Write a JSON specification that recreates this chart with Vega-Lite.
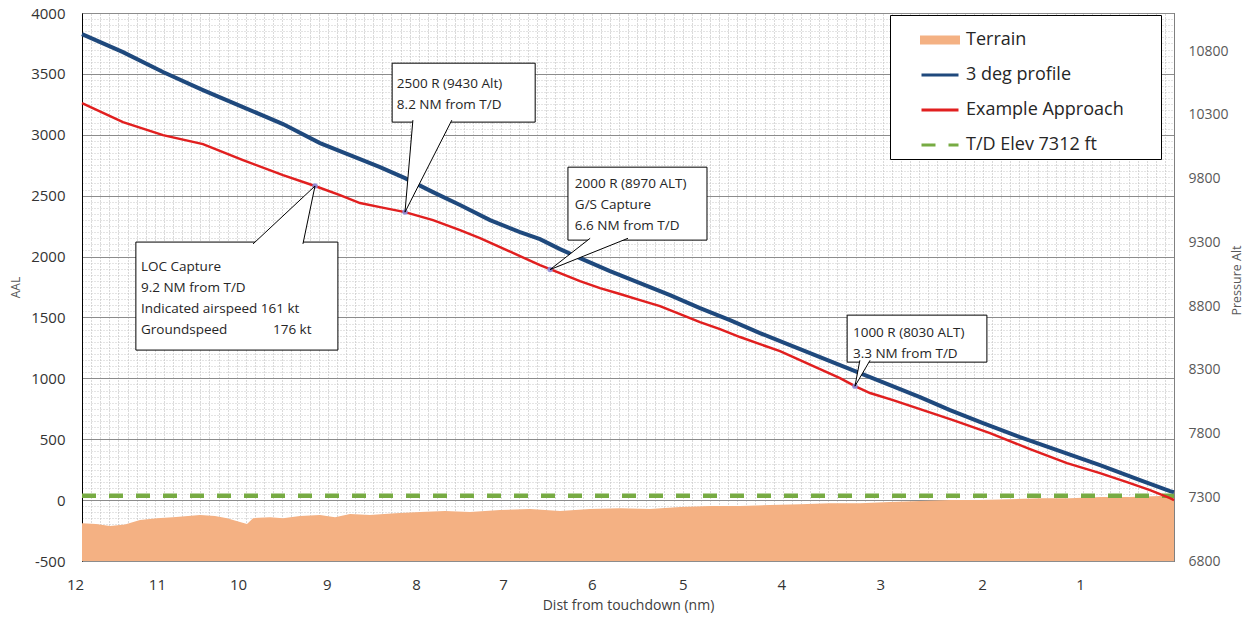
{
  "$schema": "https://vega.github.io/schema/vega-lite/v6.json",
  "width": 1092,
  "height": 548,
  "autosize": {"type": "none"},
  "padding": {"left": 82, "top": 13, "right": 80, "bottom": 60},
  "background": "#ffffff",
  "config": {
    "font": "Open Sans",
    "view": {"stroke": "#404040", "strokeWidth": 1},
    "axis": {"labelFont": "Open Sans", "titleFont": "Open Sans", "titleFontWeight": "normal", "ticks": false, "tickSize": 0, "labelOverlap": false, "labelFlush": false, "labelBound": false}
  },
  "datasets": {
    "terrain": [
      {"time_s": 0, "aal": -189}, {"time_s": 3.85, "aal": -197}, {"time_s": 7.69, "aal": -213}, {"time_s": 11.81, "aal": -200},
      {"time_s": 15.93, "aal": -164}, {"time_s": 20.6, "aal": -148}, {"time_s": 25.0, "aal": -140}, {"time_s": 32.42, "aal": -123},
      {"time_s": 36.54, "aal": -131}, {"time_s": 39.84, "aal": -148}, {"time_s": 43.41, "aal": -180}, {"time_s": 45.33, "aal": -197},
      {"time_s": 46.98, "aal": -148}, {"time_s": 51.65, "aal": -140}, {"time_s": 55.22, "aal": -148}, {"time_s": 59.89, "aal": -131},
      {"time_s": 65.38, "aal": -123}, {"time_s": 69.51, "aal": -140}, {"time_s": 73.63, "aal": -115}, {"time_s": 79.12, "aal": -123},
      {"time_s": 85.99, "aal": -107}, {"time_s": 92.86, "aal": -98}, {"time_s": 99.73, "aal": -90}, {"time_s": 106.59, "aal": -98},
      {"time_s": 114.84, "aal": -82}, {"time_s": 123.08, "aal": -74}, {"time_s": 131.32, "aal": -90}, {"time_s": 139.56, "aal": -74},
      {"time_s": 147.8, "aal": -66}, {"time_s": 156.04, "aal": -74}, {"time_s": 164.29, "aal": -57}, {"time_s": 172.53, "aal": -49},
      {"time_s": 180.77, "aal": -49}, {"time_s": 189.01, "aal": -41}, {"time_s": 197.25, "aal": -33}, {"time_s": 205.49, "aal": -25},
      {"time_s": 213.74, "aal": -25}, {"time_s": 221.98, "aal": -16}, {"time_s": 230.22, "aal": -8}, {"time_s": 238.46, "aal": 0},
      {"time_s": 246.7, "aal": 0}, {"time_s": 254.95, "aal": 8}, {"time_s": 263.19, "aal": 16}, {"time_s": 271.43, "aal": 16},
      {"time_s": 279.67, "aal": 25}, {"time_s": 287.91, "aal": 25}, {"time_s": 296.15, "aal": 33}, {"time_s": 300, "aal": 33}
    ],
    "td": [
      {"series": "T/D Elev 7312 ft", "time_s": 0, "pressure_alt": 7312},
      {"series": "T/D Elev 7312 ft", "time_s": 300, "pressure_alt": 7312}
    ],
    "lines": [
      {"series": "3 deg profile", "time_s": 0, "aal": 3827}, {"series": "3 deg profile", "time_s": 11.26, "aal": 3679},
      {"series": "3 deg profile", "time_s": 22.25, "aal": 3515}, {"series": "3 deg profile", "time_s": 33.24, "aal": 3367},
      {"series": "3 deg profile", "time_s": 44.23, "aal": 3227}, {"series": "3 deg profile", "time_s": 55.22, "aal": 3088},
      {"series": "3 deg profile", "time_s": 65.38, "aal": 2932}, {"series": "3 deg profile", "time_s": 73.63, "aal": 2833},
      {"series": "3 deg profile", "time_s": 81.87, "aal": 2735}, {"series": "3 deg profile", "time_s": 88.74, "aal": 2644},
      {"series": "3 deg profile", "time_s": 96.43, "aal": 2529}, {"series": "3 deg profile", "time_s": 103.85, "aal": 2423},
      {"series": "3 deg profile", "time_s": 112.09, "aal": 2299}, {"series": "3 deg profile", "time_s": 120.33, "aal": 2201},
      {"series": "3 deg profile", "time_s": 125.82, "aal": 2143}, {"series": "3 deg profile", "time_s": 131.32, "aal": 2061},
      {"series": "3 deg profile", "time_s": 136.81, "aal": 1987}, {"series": "3 deg profile", "time_s": 145.05, "aal": 1881},
      {"series": "3 deg profile", "time_s": 153.3, "aal": 1782}, {"series": "3 deg profile", "time_s": 161.54, "aal": 1683},
      {"series": "3 deg profile", "time_s": 169.78, "aal": 1577}, {"series": "3 deg profile", "time_s": 178.02, "aal": 1478},
      {"series": "3 deg profile", "time_s": 186.26, "aal": 1371}, {"series": "3 deg profile", "time_s": 194.51, "aal": 1273},
      {"series": "3 deg profile", "time_s": 202.75, "aal": 1174}, {"series": "3 deg profile", "time_s": 210.99, "aal": 1076},
      {"series": "3 deg profile", "time_s": 219.23, "aal": 977}, {"series": "3 deg profile", "time_s": 230.22, "aal": 846},
      {"series": "3 deg profile", "time_s": 238.46, "aal": 739}, {"series": "3 deg profile", "time_s": 247.53, "aal": 632},
      {"series": "3 deg profile", "time_s": 257.69, "aal": 517}, {"series": "3 deg profile", "time_s": 268.68, "aal": 402},
      {"series": "3 deg profile", "time_s": 279.67, "aal": 287}, {"series": "3 deg profile", "time_s": 290.66, "aal": 164},
      {"series": "3 deg profile", "time_s": 298.9, "aal": 74}, {"series": "3 deg profile", "time_s": 300, "aal": 66},
      {"series": "Example Approach", "time_s": 0, "aal": 3260}, {"series": "Example Approach", "time_s": 11.26, "aal": 3104},
      {"series": "Example Approach", "time_s": 22.25, "aal": 2997}, {"series": "Example Approach", "time_s": 33.24, "aal": 2923},
      {"series": "Example Approach", "time_s": 44.23, "aal": 2792}, {"series": "Example Approach", "time_s": 55.22, "aal": 2669},
      {"series": "Example Approach", "time_s": 64.01, "aal": 2579}, {"series": "Example Approach", "time_s": 70.88, "aal": 2505},
      {"series": "Example Approach", "time_s": 76.37, "aal": 2439}, {"series": "Example Approach", "time_s": 81.87, "aal": 2406},
      {"series": "Example Approach", "time_s": 88.74, "aal": 2365}, {"series": "Example Approach", "time_s": 96.43, "aal": 2299},
      {"series": "Example Approach", "time_s": 103.85, "aal": 2217}, {"series": "Example Approach", "time_s": 109.34, "aal": 2152},
      {"series": "Example Approach", "time_s": 114.84, "aal": 2078}, {"series": "Example Approach", "time_s": 120.33, "aal": 2004},
      {"series": "Example Approach", "time_s": 125.82, "aal": 1930}, {"series": "Example Approach", "time_s": 131.32, "aal": 1864},
      {"series": "Example Approach", "time_s": 136.81, "aal": 1798}, {"series": "Example Approach", "time_s": 142.31, "aal": 1741},
      {"series": "Example Approach", "time_s": 147.8, "aal": 1692}, {"series": "Example Approach", "time_s": 153.3, "aal": 1642},
      {"series": "Example Approach", "time_s": 158.79, "aal": 1593}, {"series": "Example Approach", "time_s": 164.29, "aal": 1527},
      {"series": "Example Approach", "time_s": 169.78, "aal": 1462}, {"series": "Example Approach", "time_s": 175.27, "aal": 1404},
      {"series": "Example Approach", "time_s": 180.77, "aal": 1339}, {"series": "Example Approach", "time_s": 186.26, "aal": 1281},
      {"series": "Example Approach", "time_s": 191.76, "aal": 1224}, {"series": "Example Approach", "time_s": 197.25, "aal": 1150},
      {"series": "Example Approach", "time_s": 202.75, "aal": 1076}, {"series": "Example Approach", "time_s": 208.24, "aal": 1002},
      {"series": "Example Approach", "time_s": 212.36, "aal": 936}, {"series": "Example Approach", "time_s": 216.48, "aal": 879},
      {"series": "Example Approach", "time_s": 222.8, "aal": 821}, {"series": "Example Approach", "time_s": 230.22, "aal": 747},
      {"series": "Example Approach", "time_s": 239.29, "aal": 657}, {"series": "Example Approach", "time_s": 249.45, "aal": 550},
      {"series": "Example Approach", "time_s": 260.44, "aal": 419}, {"series": "Example Approach", "time_s": 270.6, "aal": 304},
      {"series": "Example Approach", "time_s": 279.67, "aal": 222}, {"series": "Example Approach", "time_s": 287.09, "aal": 148},
      {"series": "Example Approach", "time_s": 293.41, "aal": 82}, {"series": "Example Approach", "time_s": 298.9, "aal": 16},
      {"series": "Example Approach", "time_s": 300, "aal": 0}
    ],
    "callouts": [
      {"id": 1, "text": "2500 R (9430 Alt)\n8.2 NM from T/D", "box_t1": 85.2, "box_t2": 124.5, "box_top": 3588, "box_bottom": 3104, "label_t": 86.5, "label_aal": 3474, "tip_t": 88.74, "tip_aal": 2365},
      {"id": 2, "text": "2000 R (8970 ALT)\nG/S Capture\n6.6 NM from T/D", "box_t1": 133.5, "box_t2": 171.7, "box_top": 2734, "box_bottom": 2135, "label_t": 135.4, "label_aal": 2652, "tip_t": 128.6, "tip_aal": 1893},
      {"id": 3, "text": "LOC Capture\n9.2 NM from T/D\nIndicated airspeed 161 kt\nGroundspeed\u00a0\u00a0\u00a0\u00a0\u00a0\u00a0\u00a0\u00a0\u00a0\u00a0\u00a0\u00a0 176 kt", "box_t1": 14.8, "box_t2": 70.3, "box_top": 2119, "box_bottom": 1232, "label_t": 16.2, "label_aal": 1971, "tip_t": 64.01, "tip_aal": 2579},
      {"id": 4, "text": "1000 R (8030 ALT)\n3.3 NM from T/D", "box_t1": 210.2, "box_t2": 248.6, "box_top": 1519, "box_bottom": 1133, "label_t": 211.8, "label_aal": 1429, "tip_t": 212.36, "tip_aal": 936}
    ],
    "pointers": [
      {"id": 1, "aal": 3120, "t_left": 90.9, "t_right": 101.6}, {"id": 1, "aal": 2365, "t_left": 88.74, "t_right": 88.74},
      {"id": 2, "aal": 2150, "t_left": 139.6, "t_right": 150.0}, {"id": 2, "aal": 1893, "t_left": 128.6, "t_right": 128.6},
      {"id": 3, "aal": 2104, "t_left": 47.0, "t_right": 60.7}, {"id": 3, "aal": 2579, "t_left": 64.01, "t_right": 64.01},
      {"id": 4, "aal": 1148, "t_left": 213.7, "t_right": 216.5}, {"id": 4, "aal": 936, "t_left": 212.36, "t_right": 212.36}
    ]
  },
  "layer": [
    {
      "data": {"name": "terrain"},
      "mark": {"type": "area", "opacity": 1},
      "encoding": {
        "x": {"field": "time_s", "type": "quantitative", "scale": {"domain": [0, 300], "nice": false, "zero": false},
          "axis": {"title": "Dist from touchdown (nm)", "orient": "bottom", "labelOverlap": false,
            "values": [0, 22.5, 44.8, 69.2, 93.7, 117.6, 142, 167, 194, 221.2, 249.2, 276.1],
            "labelExpr": "['12','11','10','9','8','7','6','5','4','3','2','1'][indexof([0,22.5,44.8,69.2,93.7,117.6,142,167,194,221.2,249.2,276.1], datum.value)]",
            "grid": false, "ticks": false, "domain": false,
            "labelFontSize": 15, "labelColor": "#333333", "labelPadding": 23, "labelBaseline": "middle", "labelOffset": -7,
            "titleFontSize": 14, "titleColor": "#404040", "titleX": 546, "titleY": 44, "titleAlign": "center", "titleBaseline": "middle"}},
        "y": {"field": "aal", "type": "quantitative", "scale": {"domain": [-500, 4000], "nice": false, "zero": false},
          "axis": {"title": "AAL", "orient": "left", "tickCount": 90, "labelOverlap": false,
            "labelExpr": "datum.value % 500 === 0 ? '' + datum.value : ''",
            "grid": true,
            "gridColor": {"condition": {"test": "datum.value % 500 === 0", "value": "#8c8c8c"}, "value": "#c8c8c8"},
            "gridDash": {"condition": {"test": "datum.value % 500 === 0", "value": []}, "value": [1, 2]},
            "gridWidth": 1, "ticks": false, "domain": true, "domainColor": "#000000", "domainWidth": 1,
            "labelFontSize": 15, "labelColor": "#333333", "labelPadding": 17,
            "titleFontSize": 12, "titleColor": "#595959", "titleX": -67, "titleY": 274, "titleAlign": "center", "titleBaseline": "middle", "titleAngle": -90}},
        "y2": {"datum": -500},
        "fill": {"datum": "Terrain", "type": "nominal", "scale": {"domain": ["Terrain"], "range": ["#f4b183"]},
          "legend": {"orient": "none", "legendX": 808, "legendY": 2, "title": null,
            "symbolType": "M-1,-0.16H1V0.16H-1Z", "symbolSize": 1369, "symbolStrokeWidth": 3, "symbolStrokeColor": "#f4b183", "symbolFillColor": "#f4b183",
            "labelOpacity": 0, "labelFontSize": 18, "labelFont": "Open Sans",
            "padding": 5, "rowPadding": 6, "symbolOffset": 25, "labelOffset": 6, "zindex": 1}}
      }
    },
    {
      "data": {"name": "td"},
      "mark": {"type": "line", "strokeWidth": 4.5},
      "encoding": {
        "x": {"field": "time_s", "type": "quantitative", "scale": {"domain": [0, 300], "nice": false, "zero": false},
          "axis": {"orient": "top", "title": null, "labels": false, "ticks": false, "domain": false, "grid": true, "gridColor": "#b4b4b4", "gridDash": [1, 2], "gridWidth": 1,
            "values": [2.5, 5, 7.5, 10, 12.5, 15, 17.5, 20, 22.5, 25, 27.5, 30, 32.5, 35, 37.5, 40, 42.5, 45, 47.5, 50, 52.5, 55, 57.5, 60, 62.5, 65, 67.5, 70, 72.5, 75, 77.5, 80, 82.5, 85, 87.5, 90, 92.5, 95, 97.5, 100, 102.5, 105, 107.5, 110, 112.5, 115, 117.5, 120, 122.5, 125, 127.5, 130, 132.5, 135, 137.5, 140, 142.5, 145, 147.5, 150, 152.5, 155, 157.5, 160, 162.5, 165, 167.5, 170, 172.5, 175, 177.5, 180, 182.5, 185, 187.5, 190, 192.5, 195, 197.5, 200, 202.5, 205, 207.5, 210, 212.5, 215, 217.5, 220, 222.5, 225, 227.5, 230, 232.5, 235, 237.5, 240, 242.5, 245, 247.5, 250, 252.5, 255, 257.5, 260, 262.5, 265, 267.5, 270, 272.5, 275, 277.5, 280, 282.5, 285, 287.5, 290, 292.5, 295, 297.5]}},
        "y": {"field": "pressure_alt", "type": "quantitative", "scale": {"domain": [6800, 11100], "nice": false, "zero": false},
          "axis": {"title": "Pressure Alt", "orient": "right", "values": [6800, 7300, 7800, 8300, 8800, 9300, 9800, 10300, 10800],
            "labelExpr": "'' + datum.value", "grid": false, "ticks": false, "domain": true, "domainColor": "#808080",
            "labelFontSize": 14, "labelColor": "#595959", "labelPadding": 14,
            "titleFontSize": 12.5, "titleColor": "#595959", "titleX": 62, "titleY": 267, "titleAlign": "center", "titleBaseline": "middle", "titleAngle": -90}},
        "stroke": {"field": "series", "type": "nominal",
          "scale": {"domain": ["Terrain", "3 deg profile", "Example Approach", "T/D Elev 7312 ft"], "range": ["#f4b183", "#1f497d", "#e11f1f", "#77ab43"]},
          "legend": {"orient": "none", "legendX": 808, "legendY": 2, "title": "xxx", "titleOrient": "right", "titleFontSize": 18, "titlePadding": 0, "titleOpacity": 0,
            "symbolType": "stroke", "symbolSize": 1369, "symbolStrokeWidth": 3,
            "labelFontSize": 18, "labelFont": "Open Sans", "labelColor": "#262626", "labelLimit": 400,
            "fillColor": "#ffffff", "strokeColor": "#000000", "padding": 5, "rowPadding": 6, "symbolOffset": 25, "labelOffset": 6}},
        "strokeDash": {"field": "series", "type": "nominal",
          "scale": {"domain": ["Terrain", "3 deg profile", "Example Approach", "T/D Elev 7312 ft"], "range": [[1, 0], [1, 0], [1, 0], [14, 13]]},
          "legend": {"orient": "none", "legendX": 808, "legendY": 2, "title": "xxx", "titleOrient": "right", "titleFontSize": 18, "titlePadding": 0, "titleOpacity": 0,
            "symbolType": "stroke", "symbolSize": 1369, "symbolStrokeWidth": 3,
            "labelFontSize": 18, "labelFont": "Open Sans", "labelColor": "#262626", "labelLimit": 400,
            "fillColor": "#ffffff", "strokeColor": "#000000", "padding": 5, "rowPadding": 6, "symbolOffset": 25, "labelOffset": 6}}
      }
    },
    {
      "layer": [
        {
          "data": {"name": "lines"},
          "transform": [{"filter": "datum.series === '3 deg profile'"}],
          "mark": {"type": "line", "strokeWidth": 4},
          "encoding": {
            "x": {"field": "time_s", "type": "quantitative", "scale": {"domain": [0, 300], "nice": false, "zero": false}, "axis": null},
            "y": {"field": "aal", "type": "quantitative", "scale": {"domain": [-500, 4000], "nice": false, "zero": false}, "axis": null},
            "stroke": {"field": "series", "type": "nominal"}
          }
        },
        {
          "data": {"name": "lines"},
          "transform": [{"filter": "datum.series === 'Example Approach'"}],
          "mark": {"type": "line", "strokeWidth": 2.5},
          "encoding": {
            "x": {"field": "time_s", "type": "quantitative", "scale": {"domain": [0, 300], "nice": false, "zero": false}, "axis": null},
            "y": {"field": "aal", "type": "quantitative", "scale": {"domain": [-500, 4000], "nice": false, "zero": false}, "axis": null},
            "stroke": {"field": "series", "type": "nominal"}
          }
        },
        {
          "data": {"name": "callouts"},
          "mark": {"type": "point", "filled": true, "size": 30, "color": "#8c8cd9", "opacity": 0.9},
          "encoding": {
            "x": {"field": "tip_t", "type": "quantitative", "axis": null},
            "y": {"field": "tip_aal", "type": "quantitative", "axis": null}
          }
        },
        {
          "data": {"name": "callouts"},
          "mark": {"type": "rect", "fill": "#ffffff", "stroke": "#000000", "strokeWidth": 1},
          "encoding": {
            "x": {"field": "box_t1", "type": "quantitative", "axis": null},
            "x2": {"field": "box_t2"},
            "y": {"field": "box_top", "type": "quantitative", "axis": null},
            "y2": {"field": "box_bottom"}
          }
        },
        {
          "data": {"name": "pointers"},
          "mark": {"type": "area", "orient": "horizontal", "fill": "#ffffff", "opacity": 1},
          "encoding": {
            "y": {"field": "aal", "type": "quantitative", "axis": null},
            "x": {"field": "t_left", "type": "quantitative", "stack": null, "axis": null},
            "x2": {"field": "t_right"},
            "detail": {"field": "id", "type": "nominal"}
          }
        },
        {
          "data": {"name": "pointers"},
          "mark": {"type": "line", "color": "#000000", "strokeWidth": 1},
          "encoding": {
            "x": {"field": "t_left", "type": "quantitative", "axis": null},
            "y": {"field": "aal", "type": "quantitative", "axis": null},
            "detail": {"field": "id", "type": "nominal"}
          }
        },
        {
          "data": {"name": "pointers"},
          "mark": {"type": "line", "color": "#000000", "strokeWidth": 1},
          "encoding": {
            "x": {"field": "t_right", "type": "quantitative", "axis": null},
            "y": {"field": "aal", "type": "quantitative", "axis": null},
            "detail": {"field": "id", "type": "nominal"}
          }
        },
        {
          "data": {"name": "callouts"},
          "mark": {"type": "text", "align": "left", "baseline": "top", "font": "Open Sans", "fontSize": 13.5, "lineHeight": 21, "lineBreak": "\n", "color": "#262626"},
          "encoding": {
            "x": {"field": "label_t", "type": "quantitative", "axis": null},
            "y": {"field": "label_aal", "type": "quantitative", "axis": null},
            "text": {"field": "text", "type": "nominal"}
          }
        }
      ]
    }
  ],
  "resolve": {"scale": {"y": "independent"}, "axis": {"x": "independent"}}
}
